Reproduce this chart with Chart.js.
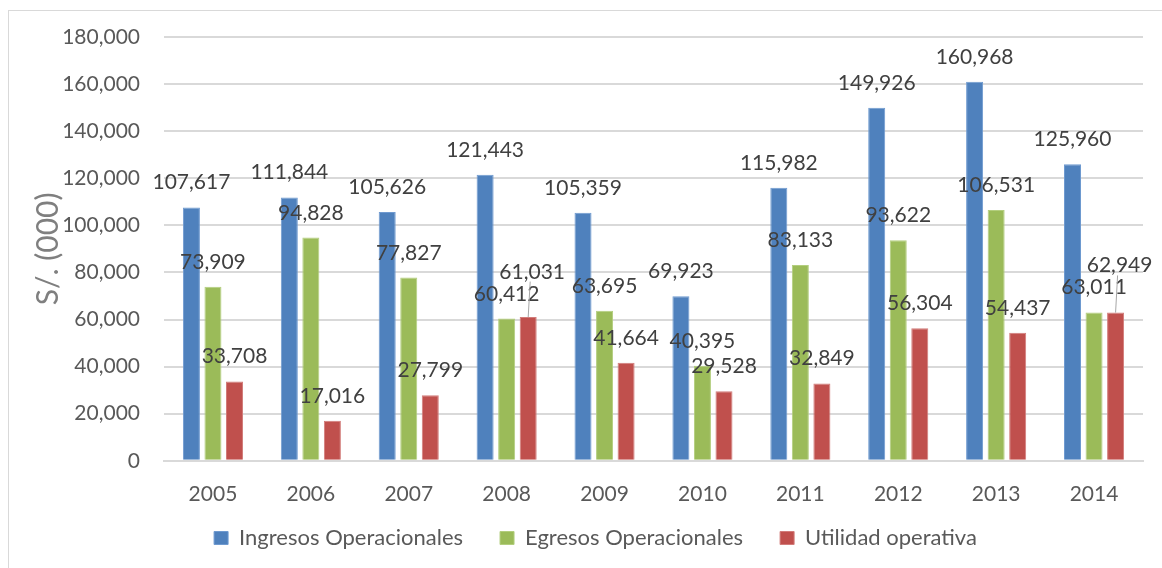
<!DOCTYPE html>
<html>
<head>
<meta charset="utf-8">
<script src="https://cdn.jsdelivr.net/npm/chart.js@4/dist/chart.umd.min.js"></script>
<style>
  html, body { margin: 0; padding: 0; background: #fff; }
  #wrap { position: relative; width: 1162px; height: 568px; }
</style>
</head>
<body>
<div id="wrap"><canvas id="barChart" width="1162" height="568"></canvas></div>
<script>
const years = ['2005', '2006', '2007', '2008', '2009', '2010', '2011', '2012', '2013', '2014'];
const ingresos = [107617, 111844, 105626, 121443, 105359, 69923, 115982, 149926, 160968, 125960];
const egresos = [73909, 94828, 77827, 60412, 63695, 40395, 83133, 93622, 106531, 63011];
const utilidad = [33708, 17016, 27799, 61031, 41664, 29528, 32849, 56304, 54437, 62949];
const yTicks = [0, 20000, 40000, 60000, 80000, 100000, 120000, 140000, 160000, 180000];

const fmt = v => v.toLocaleString('en-US');

// outer frame like the Excel chart area
const framePlugin = {
    id: 'frame',
    beforeDraw(chart) {
        const ctx = chart.ctx;
        ctx.save();
        ctx.strokeStyle = '#d9d9d9';
        ctx.lineWidth = 1;
        ctx.strokeRect(8.5, 10.5, 1300, 700);
        ctx.restore();
    }
};

// move the legend up/right (wide item gap needs big padding, which pushes it down)
// only the top edge moves so the legend's clip box still covers the items
const legendShift = {
    id: 'legendShift',
    afterLayout(chart) {
        const lg = chart.legend;
        lg.top -= 38;
        lg.left += 24;
        lg.right += 24;
    }
};

// value labels above each bar; a label that would overlap another one in the
// same year is lifted above it and tied to its bar with a thin leader line
const valueLabels = {
    id: 'valueLabels',
    afterDatasetsDraw(chart) {
        const ctx = chart.ctx;
        const h = 16;
        ctx.save();
        ctx.font = '21px Lato';
        ctx.textAlign = 'center';
        ctx.textBaseline = 'alphabetic';
        years.forEach((yr, j) => {
            const placed = [];
            chart.data.datasets.forEach((ds, i) => {
                const bar = chart.getDatasetMeta(i).data[j];
                const text = fmt(ds.data[j]);
                const w = ctx.measureText(text).width;
                let base = bar.y - 18;
                let moved = false;
                placed.forEach(r => {
                    const overlapX = Math.abs(r.x - bar.x) < (r.w + w) / 2;
                    const overlapY = base > r.base - h && base - h < r.base;
                    if (overlapX && overlapY) {
                        base = r.base - h - 6;
                        moved = true;
                    }
                });
                if (moved) {
                    ctx.strokeStyle = '#a6a6a6';
                    ctx.lineWidth = 1;
                    ctx.beginPath();
                    ctx.moveTo(bar.x, bar.y);
                    ctx.lineTo(bar.x + 2, base + 3);
                    ctx.stroke();
                }
                ctx.fillStyle = '#404040';
                ctx.fillText(text, bar.x + (moved ? 4 : 0), base);
                placed.push({ x: bar.x, w: w, base: base });
            });
        });
        ctx.restore();
    }
};

const ctx = document.getElementById('barChart').getContext('2d');
const barChart = new Chart(ctx, {
    type: 'bar',
    data: {
        labels: years,
        datasets: [
            { label: 'Ingresos Operacionales', data: ingresos, backgroundColor: '#4F81BD', borderColor: '#6F9AD0', borderWidth: 1 },
            { label: 'Egresos Operacionales', data: egresos, backgroundColor: '#9BBB59', borderColor: '#B3CE7E', borderWidth: 1 },
            { label: 'Utilidad operativa', data: utilidad, backgroundColor: '#C0504D', borderColor: '#D27C7A', borderWidth: 1 }
        ]
    },
    options: {
        responsive: false,
        animation: false,
        categoryPercentage: 0.66,
        barPercentage: 0.79,
        layout: { padding: { top: 37, right: 19, bottom: -10, left: 0 } },
        plugins: {
            tooltip: { enabled: false },
            legend: {
                display: true,
                position: 'bottom',
                maxHeight: 50,
                labels: {
                    boxWidth: 14,
                    boxHeight: 13,
                    padding: 37,
                    color: '#595959',
                    font: { family: 'Lato', size: 22 }
                }
            }
        },
        scales: {
            x: {
                grid: { display: false, drawTicks: false },
                border: { color: '#d9d9d9', width: 2 },
                ticks: { color: '#595959', padding: 21, font: { family: 'Lato', size: 21 } }
            },
            y: {
                min: 0,
                max: 180000,
                afterBuildTicks: s => { s.ticks = yTicks.map(v => ({ value: v })); },
                grid: { color: '#d9d9d9', lineWidth: 2, drawTicks: false },
                border: { display: false },
                ticks: {
                    color: '#595959',
                    padding: 24,
                    font: { family: 'Lato', size: 21 },
                    callback: v => fmt(v)
                },
                title: {
                    display: true,
                    text: 'S/. (000)',
                    color: '#7f7f7f',
                    font: { family: 'Lato', size: 30 },
                    padding: { top: 30, bottom: 0 }
                },
                afterFit: s => { s.width = 164; }
            }
        }
    },
    plugins: [framePlugin, legendShift, valueLabels]
});
</script>
</body>
</html>
